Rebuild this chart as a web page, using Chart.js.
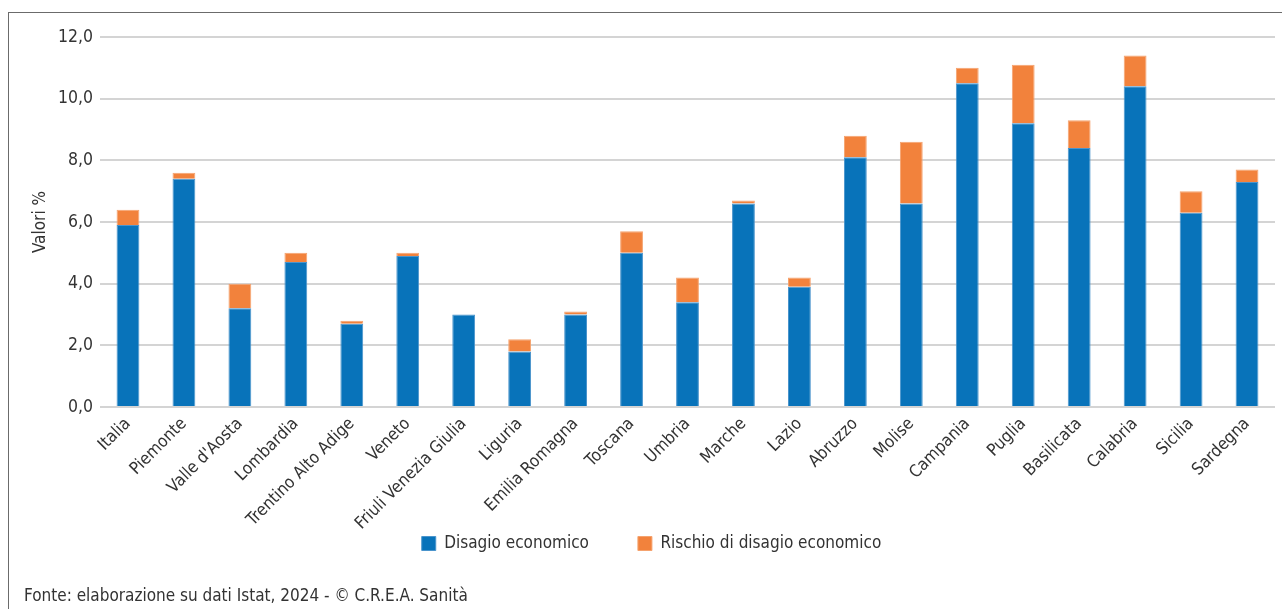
<!DOCTYPE html>
<html lang="it">
<head>
<meta charset="utf-8">
<title>Disagio economico per regione</title>
<script src="https://cdn.jsdelivr.net/npm/chart.js@4.4.1/dist/chart.umd.min.js"></script>
<style>
  html, body { margin: 0; padding: 0; background: #ffffff; overflow: hidden; }
  #frame { position: absolute; left: 8px; top: 12px; width: 1400px; height: 700px;
           border-top: 1px solid #6b6b6b; border-left: 1px solid #6b6b6b; }
  #wrap { position: absolute; left: 0; top: 0; width: 1282px; height: 609px; }
  #footer { position: absolute; left: 24px; top: 585px; font-family: "Liberation Sans Narrow", "DejaVu Sans Condensed", sans-serif;
            font-size: 17px; line-height: 20px; color: #333333; white-space: nowrap; }
</style>
</head>
<body>
<div id="frame"></div>
<div id="wrap"><canvas id="chart" width="1282" height="609"></canvas></div>
<div id="footer">Fonte: elaborazione su dati Istat, 2024 - © C.R.E.A. Sanità</div>
<script>
const categories = ["Italia", "Piemonte", "Valle d'Aosta", "Lombardia", "Trentino Alto Adige", "Veneto",
  "Friuli Venezia Giulia", "Liguria", "Emilia Romagna", "Toscana", "Umbria", "Marche", "Lazio",
  "Abruzzo", "Molise", "Campania", "Puglia", "Basilicata", "Calabria", "Sicilia", "Sardegna"];
const disagio = [5.9, 7.4, 3.2, 4.7, 2.7, 4.9, 3.0, 1.8, 3.0, 5.0, 3.4, 6.6, 3.9, 8.1, 6.6, 10.5, 9.2, 8.4, 10.4, 6.3, 7.3];
const rischio = [0.5, 0.2, 0.8, 0.3, 0.1, 0.1, 0.0, 0.4, 0.1, 0.7, 0.8, 0.1, 0.3, 0.7, 2.0, 0.5, 1.9, 0.9, 1.0, 0.7, 0.4];
const seriesNames = ["Disagio economico", "Rischio di disagio economico"];
const yTicks = [0, 2, 4, 6, 8, 10, 12];
const yTitle = "Valori %";

const FONT = '"Liberation Sans Narrow", "DejaVu Sans Condensed", sans-serif';

new Chart(document.getElementById('chart'), {
  type: 'bar',
  data: {
    labels: categories,
    datasets: [
      { label: seriesNames[0], data: disagio, backgroundColor: '#0873ba', borderColor: '#4a94cc', borderWidth: 1 },
      { label: seriesNames[1], data: rischio, backgroundColor: '#f2823c', borderColor: '#f5a36f', borderWidth: 1 }
    ]
  },
  options: {
    responsive: false,
    animation: false,
    devicePixelRatio: 1,
    datasets: { bar: { categoryPercentage: 0.8, barPercentage: 0.51 } },
    layout: { padding: { left: 28, right: 7, top: 37, bottom: 47 } },
    plugins: {
      tooltip: { enabled: false },
      legend: {
        position: 'bottom',
        align: 'center',
        labels: {
          boxWidth: 14, boxHeight: 14, padding: 49,
          color: '#333333',
          font: { family: FONT, size: 17 }
        }
      }
    },
    scales: {
      x: {
        stacked: true,
        grid: { display: false },
        border: { display: false },
        ticks: {
          color: '#333333', font: { family: FONT, size: 17 },
          minRotation: 45, maxRotation: 45, padding: -1, autoSkip: false
        },
        afterFit: (s) => { s.height = 79; s._computeLabelArea = () => undefined; }
      },
      y: {
        stacked: true,
        min: 0, max: 12,
        afterBuildTicks: (s) => { s.ticks = yTicks.map(v => ({ value: v })); },
        grid: { color: '#d4d4d4', lineWidth: 2, drawTicks: false },
        border: { display: false },
        ticks: {
          color: '#333333', font: { family: FONT, size: 17.5 }, padding: 7,
          callback: (v) => Number(v).toFixed(1).replace('.', ',')
        },
        title: {
          display: true, text: yTitle, color: '#333333',
          font: { family: FONT, size: 17 }, padding: { top: 2, bottom: 0 }
        },
        afterFit: (s) => { s.width = 72; }
      }
    }
  }
});
</script>
</body>
</html>
